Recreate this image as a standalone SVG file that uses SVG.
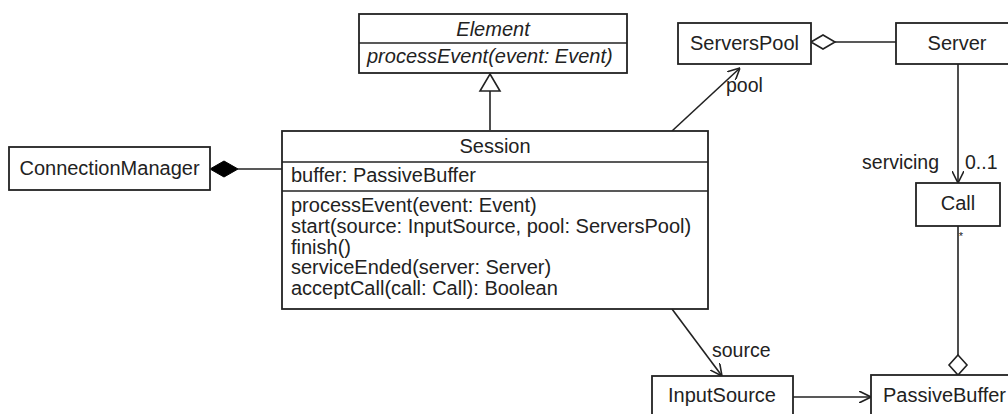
<svg xmlns="http://www.w3.org/2000/svg" width="1008" height="414" viewBox="0 0 1008 414">
<style>
.box{fill:#fff;stroke:#222;stroke-width:1.8}
.ln{fill:none;stroke:#222;stroke-width:1.6}
text{font-family:"Liberation Sans",Arial,sans-serif;font-size:20px;fill:#222}
.it{font-style:italic}
.c{text-anchor:middle}
.lbl{font-size:19.5px}
</style>
<defs>
<marker id="open" viewBox="0 0 12 12" refX="12" refY="6" markerWidth="12" markerHeight="12" markerUnits="userSpaceOnUse" orient="auto">
<path d="M0,0 L12,6 L0,12" fill="none" stroke="#222" stroke-width="1.6"/>
</marker>
</defs>
<g id="connectors">
<line class="ln" x1="490" y1="130" x2="490" y2="91"/>
<polygon points="490,74 500,91 480,91" fill="#fff" stroke="#222" stroke-width="1.6"/>
<line class="ln" x1="282" y1="169" x2="238" y2="169"/>
<polygon points="210,169 224,161 238,169 224,177" fill="#000" stroke="#000" stroke-width="1"/>
<line class="ln" x1="672" y1="131" x2="740" y2="68" marker-end="url(#open)"/>
<line class="ln" x1="835" y1="42" x2="896" y2="42"/>
<polygon points="811,42 823,35 835,42 823,49" fill="#fff" stroke="#222" stroke-width="1.6"/>
<line class="ln" x1="958" y1="64" x2="958" y2="183" marker-end="url(#open)"/>
<line class="ln" x1="958" y1="226" x2="958" y2="355"/>
<polygon points="958,355 967,365 958,375 949,365" fill="#fff" stroke="#222" stroke-width="1.6"/>
<line class="ln" x1="672" y1="309" x2="722" y2="376" marker-end="url(#open)"/>
<line class="ln" x1="793" y1="397" x2="871" y2="397" marker-end="url(#open)"/>
<text class="lbl" x="726" y="92">pool</text>
<text class="lbl" x="939" y="169" text-anchor="end">servicing</text>
<text class="lbl" x="965" y="169">0..1</text>
<text x="961" y="240" text-anchor="middle" style="font-size:11px">*</text>
<text class="lbl" x="712" y="357">source</text>
</g>
<g id="Element">
<rect class="box" x="359" y="14" width="268" height="59"/>
<line class="ln" x1="359" y1="43" x2="627" y2="43"/>
<text class="it c" x="493" y="36">Element</text>
<text class="it" x="367" y="63">processEvent(event: Event)</text>
</g>
<g id="Session">
<rect class="box" x="282" y="131" width="426" height="178"/>
<line class="ln" x1="282" y1="162" x2="708" y2="162"/>
<line class="ln" x1="282" y1="191" x2="708" y2="191"/>
<text class="c" x="495" y="153">Session</text>
<text x="291" y="182">buffer: PassiveBuffer</text>
<text x="291" y="212">processEvent(event: Event)</text>
<text x="291" y="233">start(source: InputSource, pool: ServersPool)</text>
<text x="291" y="253.5">finish()</text>
<text x="291" y="274">serviceEnded(server: Server)</text>
<text x="291" y="295">acceptCall(call: Call): Boolean</text>
</g>
<g id="ConnectionManager">
<rect class="box" x="9" y="147" width="201" height="43"/>
<text class="c" x="109.5" y="175">ConnectionManager</text>
</g>
<g id="ServersPool">
<rect class="box" x="678" y="23" width="133" height="41"/>
<text class="c" x="744.5" y="50">ServersPool</text>
</g>
<g id="Server">
<rect class="box" x="896" y="23" width="122" height="41"/>
<text class="c" x="957" y="50">Server</text>
</g>
<g id="Call">
<rect class="box" x="916" y="183" width="84" height="43"/>
<text class="c" x="958" y="210">Call</text>
</g>
<g id="InputSource">
<rect class="box" x="652" y="376" width="141" height="50"/>
<text class="c" x="722" y="402">InputSource</text>
</g>
<g id="PassiveBuffer">
<rect class="box" x="871" y="375" width="150" height="50"/>
<text x="883" y="402">PassiveBuffer</text>
</g>
</svg>
